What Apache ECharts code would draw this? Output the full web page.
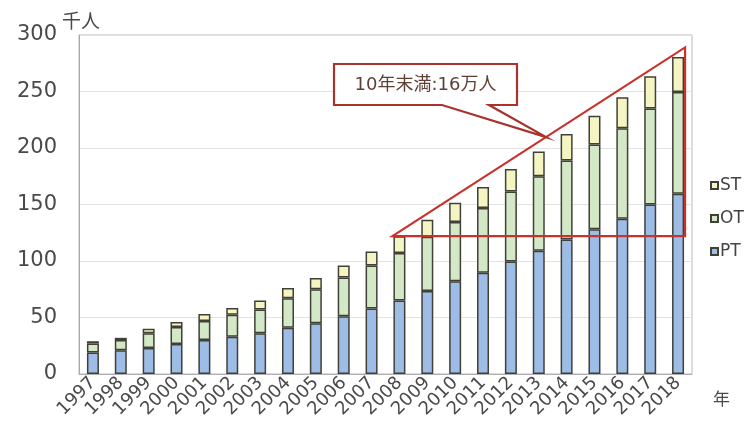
<!DOCTYPE html>
<html>
<head>
<meta charset="utf-8">
<script src="https://cdn.jsdelivr.net/npm/echarts@6/dist/echarts.min.js"></script>
<style>
  html, body { margin: 0; padding: 0; background: #fff; }
  #chart { width: 753px; height: 434px; }
</style>
</head>
<body>
<div id="chart"></div>
<script>
// Registered therapists per year (thousand people), stacked PT / OT / ST
const years = ['1997','1998','1999','2000','2001','2002','2003','2004','2005','2006','2007',
               '2008','2009','2010','2011','2012','2013','2014','2015','2016','2017','2018'];
const ptValues = [19, 21, 23, 26.5, 30, 33, 36, 41, 45, 51, 58,
                  65, 73.5, 82, 89.5, 99.5, 109, 119, 128, 137.5, 150, 159.5];
const otValues = [8, 9, 13, 15, 17, 19.5, 21, 26, 30, 34.5, 38,
                  42, 48, 52.5, 57.5, 62, 66, 70, 75, 80, 85, 90];
const stValues = [2, 2, 4, 4.5, 6, 6, 8, 9, 10, 10.5, 12.5,
                  15, 15, 17, 18.5, 20, 22, 23.5, 25.5, 27.5, 28.5, 31];
const yTicks = [0, 50, 100, 150, 200, 250, 300];

// Growth over the last ten years, outlined as a triangle
const spanYears = ['2008', '2018'];
const spanLevels = [122, 289];
const calloutText = '10年末満:16万人';

const BAR_W = 12;
const textFont = '"Noto Sans CJK JP", "DejaVu Sans", sans-serif';
const numFont = '"DejaVu Sans", "Noto Sans CJK JP", sans-serif';
const edge = '#404037';

const chart = echarts.init(document.getElementById('chart'), null, { renderer: 'canvas' });

function barSeries(name, data, color) {
  return {
    name: name,
    type: 'bar',
    stack: 'total',
    barWidth: BAR_W,
    data: data,
    itemStyle: { color: color, borderColor: edge, borderWidth: 1.5 },
    emphasis: { disabled: true }
  };
}

chart.setOption({
  animation: false,
  grid: {
    left: 79, right: 61, top: 35, bottom: 60,
    show: true, borderColor: '#b9b9b9', borderWidth: 1
  },
  legend: {
    orient: 'vertical',
    left: 705, top: 172,
    data: ['ST', 'OT', 'PT'],
    icon: 'rect',
    itemWidth: 7, itemHeight: 7,
    itemGap: 16,
    textStyle: { fontFamily: numFont, fontSize: 17, color: '#444', padding: [0, 0, 0, -3] }
  },
  xAxis: {
    type: 'category',
    data: years,
    axisLine: { lineStyle: { color: '#b0b0b0' } },
    axisTick: { show: false },
    axisLabel: {
      rotate: 45, interval: 0, margin: 6,
      fontFamily: numFont, fontSize: 18, color: '#4a4a4a'
    },
    name: '年',
    nameLocation: 'end',
    nameGap: 21,
    nameMoveOverlap: false,
    nameTextStyle: {
      fontFamily: textFont, fontSize: 17, color: '#4a4a4a',
      verticalAlign: 'top', padding: [16, 0, 0, 0]
    }
  },
  yAxis: {
    type: 'value',
    min: yTicks[0], max: yTicks[yTicks.length - 1], interval: 50,
    axisLine: { show: true, lineStyle: { color: '#a8a8a8' } },
    axisTick: { show: false },
    splitLine: { lineStyle: { color: '#e2e2e2' } },
    axisLabel: { fontFamily: numFont, fontSize: 21, color: '#4a4a4a', margin: 22 },
    name: '千人',
    nameLocation: 'end',
    nameGap: 24,
    nameMoveOverlap: false,
    nameTextStyle: {
      fontFamily: textFont, fontSize: 19, color: '#4a4a4a',
      align: 'left', verticalAlign: 'top', padding: [0, 0, 0, -17]
    }
  },
  series: [
    barSeries('PT', ptValues, '#9dbde6'),
    barSeries('OT', otValues, '#d3e8c6'),
    barSeries('ST', stValues, '#f4f5c3')
  ]
});

// Annotation triangle spanning from the 2008 bar to the 2018 bar
const half = BAR_W / 2 + 1;
const xL = chart.convertToPixel({ xAxisIndex: 0 }, spanYears[0]) - half;
const xR = chart.convertToPixel({ xAxisIndex: 0 }, spanYears[1]) + half;
const yLow = chart.convertToPixel({ yAxisIndex: 0 }, spanLevels[0]);
const yHigh = chart.convertToPixel({ yAxisIndex: 0 }, spanLevels[1]);

// Callout pointer tip sits on the rising edge of the triangle
const t = 0.525;
const tipX = xL + (xR - xL) * t;
const tipY = yLow + (yHigh - yLow) * t;

const box = { x1: 334, y1: 64, x2: 517, y2: 105, tailL: 442, tailR: 489 };

chart.setOption({
  graphic: [
    {
      type: 'polygon', z: 100,
      shape: { points: [[xL, yLow], [xR, yHigh], [xR, yLow]] },
      style: { fill: 'none', stroke: '#c8322c', lineWidth: 2.2, lineJoin: 'miter' }
    },
    {
      type: 'polygon', z: 101,
      shape: { points: [
        [box.x1, box.y1], [box.x2, box.y1], [box.x2, box.y2],
        [box.tailR, box.y2], [tipX, tipY], [box.tailL, box.y2], [box.x1, box.y2]
      ] },
      style: { fill: '#ffffff', stroke: '#a8322c', lineWidth: 2.2, lineJoin: 'miter' }
    },
    {
      type: 'text', z: 102,
      x: (box.x1 + box.x2) / 2, y: (box.y1 + box.y2) / 2 + 1,
      style: {
        text: calloutText, fill: '#5e3f36',
        font: '18px ' + numFont,
        align: 'center', verticalAlign: 'middle'
      }
    }
  ]
});
</script>
</body>
</html>
